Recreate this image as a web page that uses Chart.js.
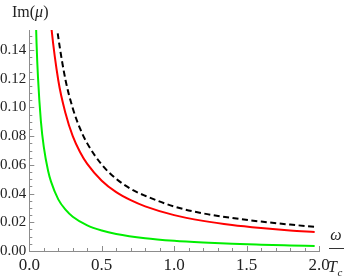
<!DOCTYPE html>
<html>
<head>
<meta charset="utf-8">
<script src="https://cdn.jsdelivr.net/npm/chart.js@4/dist/chart.umd.min.js"></script>
<style>
html,body{margin:0;padding:0;background:#fff;}
#wrap{width:346px;height:277px;position:relative;}
</style>
</head>
<body>
<div id="wrap"><canvas id="c" width="346" height="277"></canvas></div>
<script>
// Data
const omegaGreen = [0.04,0.05,0.06,0.08,0.1,0.13,0.15,0.2,0.25,0.3,0.4,0.5,0.6,0.8,1.0,1.2,1.4,1.6,1.8,1.97];
const imGreen    = [0.18,0.145,0.121,0.0905,0.0725,0.0557,0.0483,0.036,0.0288,0.0239,0.0179,0.0143,0.0119,0.0089,0.0071,0.0059,0.0050,0.0044,0.0039,0.0035];
const omegaRed   = [0.14,0.15,0.2,0.25,0.3,0.35,0.4,0.5,0.6,0.7,0.8,1.0,1.2,1.4,1.6,1.8,1.97];
const imRed      = [0.170,0.158,0.119,0.096,0.080,0.069,0.0607,0.049,0.041,0.0354,0.0311,0.025,0.021,0.0181,0.016,0.0143,0.0132];
const omegaBlack = [0.18,0.2,0.25,0.3,0.35,0.4,0.5,0.6,0.7,0.8,1.0,1.2,1.4,1.6,1.8,1.97];
const imBlack    = [0.165,0.149,0.1192,0.0995,0.0854,0.075,0.0602,0.0503,0.0433,0.0385,0.031,0.0262,0.023,0.0205,0.0184,0.0169];
const xTicks = [0.0,0.5,1.0,1.5,2.0];
const yTicks = [0.00,0.02,0.04,0.06,0.08,0.10,0.12,0.14];
const yTitle = ["Im(", "\u03BC", ")"];
const xTitleTop = "\u03C9";
const xTitleBottom = ["T", "c"];

const pts = (xs, ys) => xs.map((x, i) => ({x: x, y: ys[i]}));
const SERIF = 'Liberation Serif';
const AXIS = '#8c8c8c';
Chart.defaults.font.family = SERIF;

const decor = {
  id: 'decor',
  afterDraw(chart) {
    const ctx = chart.ctx;
    const xs = chart.scales.x, ys = chart.scales.y;
    const ca = chart.chartArea;
    ctx.save();
    ctx.strokeStyle = AXIS;
    ctx.lineWidth = 1;
    for (let i = 0; i <= 20; i++) {
      const v = i * 0.1;
      const px = Math.round(xs.getPixelForValue(v)) + 0.5;
      const len = (i % 5 === 0) ? 5 : 3;
      ctx.beginPath(); ctx.moveTo(px, ca.bottom); ctx.lineTo(px, ca.bottom - len); ctx.stroke();
    }
    for (let i = 0; i <= 30; i++) {
      const v = i * 0.005;
      if (v > ys.max) break;
      const py = Math.round(ys.getPixelForValue(v)) + 0.5;
      const len = (i % 4 === 0) ? 5 : 3;
      ctx.beginPath(); ctx.moveTo(ca.left, py); ctx.lineTo(ca.left + len, py); ctx.stroke();
    }
    ctx.fillStyle = '#222';
    ctx.textBaseline = 'alphabetic';
    ctx.textAlign = 'left';
    let x = 12;
    const yb = 17;
    ctx.font = '16px ' + SERIF;
    ctx.fillText(yTitle[0], x, yb); x += ctx.measureText(yTitle[0]).width;
    ctx.font = 'italic 16px ' + SERIF;
    ctx.fillText(yTitle[1], x, yb); x += ctx.measureText(yTitle[1]).width;
    ctx.font = '16px ' + SERIF;
    ctx.fillText(yTitle[2], x, yb);
    ctx.font = 'italic 16px ' + SERIF;
    ctx.textAlign = 'center';
    ctx.fillText(xTitleTop, 336, 240);
    ctx.beginPath(); ctx.strokeStyle = '#333'; ctx.moveTo(329, 248.5); ctx.lineTo(344, 248.5); ctx.stroke();
    ctx.textAlign = 'left';
    ctx.font = 'italic 16px ' + SERIF;
    ctx.fillText(xTitleBottom[0], 328, 272);
    ctx.font = 'italic 11px ' + SERIF;
    ctx.fillText(xTitleBottom[1], 337.5, 276);
    ctx.restore();
  }
};

new Chart(document.getElementById('c'), {
  type: 'scatter',
  data: {
    datasets: [
      {data: pts(omegaBlack, imBlack), borderColor: '#000000', borderWidth: 2, borderDash: [6, 3.5], showLine: true, pointRadius: 0, cubicInterpolationMode: 'monotone'},
      {data: pts(omegaRed, imRed), borderColor: '#ff0000', borderWidth: 2, showLine: true, pointRadius: 0, cubicInterpolationMode: 'monotone'},
      {data: pts(omegaGreen, imGreen), borderColor: '#00ee00', borderWidth: 2, showLine: true, pointRadius: 0, cubicInterpolationMode: 'monotone'}
    ]
  },
  options: {
    responsive: false,
    animation: false,
    events: [],
    layout: {padding: {left: 0, right: 27, top: 30, bottom: 0}},
    plugins: {legend: {display: false}, tooltip: {enabled: false}},
    scales: {
      x: {
        type: 'linear', min: 0, max: 2,
        afterBuildTicks(s) { s.ticks = xTicks.map(v => ({value: v})); },
        afterFit(s) { s.height = 26; },
        grid: {display: false, drawTicks: false},
        border: {display: true, color: AXIS, width: 1},
        ticks: {color: '#222', padding: 4, font: {family: SERIF, size: 17}, maxRotation: 0, autoSkip: false,
                callback: v => Number(v).toFixed(1)}
      },
      y: {
        type: 'linear', min: 0, max: 0.154,
        afterBuildTicks(s) { s.ticks = yTicks.map(v => ({value: v})); },
        afterFit(s) { s.width = 29.3; },
        grid: {display: false, drawTicks: false},
        border: {display: true, color: AXIS, width: 1},
        ticks: {color: '#222', padding: 3, font: {family: SERIF, size: 15}, autoSkip: false,
                callback: v => Number(v).toFixed(2)}
      }
    }
  },
  plugins: [decor]
});
</script>
</body>
</html>
